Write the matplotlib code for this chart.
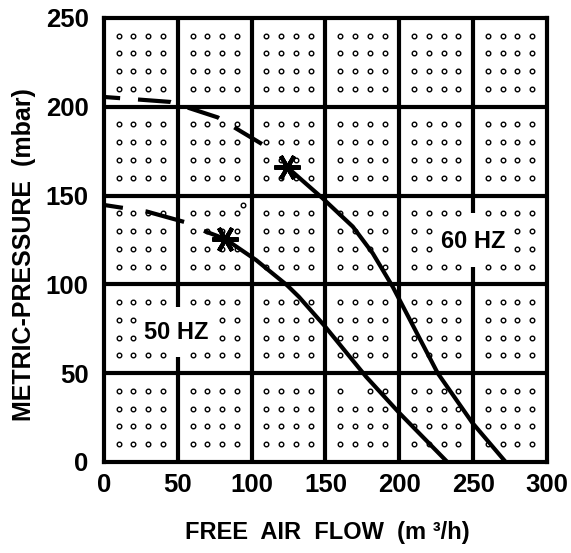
import matplotlib
matplotlib.use('Agg')
import matplotlib.pyplot as plt
import numpy as np

# ------------------------------------------------------------------
# curve data (free air flow m3/h, pressure mbar)
hz60_dash_x = [0, 45, 77, 107]
hz60_dash_y = [205.5, 202.7, 194, 179]
hz60_x = [124, 148, 168.5, 182, 195.5, 226, 249.5, 272]
hz60_y = [166, 148.5, 132.5, 117.5, 98.7, 50, 22, 0]

hz50_dash_x = [0, 29, 55]
hz50_dash_y = [144.7, 141, 135]
hz50_x = [69, 82, 103, 124, 132, 149, 177.5, 200, 232.5]
hz50_y = [129.7, 125.6, 113.7, 99.5, 93, 77, 48, 27.6, 0]

star_x = [124, 82]
star_y = [166, 125.6]

x_ticks = [0, 50, 100, 150, 200, 250, 300]
y_ticks = [0, 50, 100, 150, 200, 250]

labels = ["60 HZ", "50 HZ"]
label_x = [250, 49]
label_y = [124, 73]

# dots hidden behind labels / curves, and one stray dot
hidden_dots = [(230, 120), (240, 120), (260, 120), (270, 120),
               (230, 130), (240, 130), (260, 130), (270, 130),
               (30, 70), (40, 70), (60, 70), (70, 70),
               (30, 80), (40, 80), (60, 80), (70, 80),
               (170, 40)]
extra_dots = [(94, 144.5)]

# ------------------------------------------------------------------
plt.rcParams['font.family'] = ['Liberation Sans', 'DejaVu Sans']
plt.rcParams['font.weight'] = 'bold'

fig = plt.figure(figsize=(5.71, 5.53), dpi=100)
ax = fig.add_axes([0.182, 0.1646, 0.776, 0.803])
ax.set_xlim(0, 300)
ax.set_ylim(0, 250)

lw = 3.0
# grid lines (broken where the labels sit)
for xv in x_ticks[1:-1]:
    if xv == 250:
        ax.plot([xv, xv], [0, 110], color='black', lw=lw, solid_capstyle='butt')
        ax.plot([xv, xv], [140, 250], color='black', lw=lw, solid_capstyle='butt')
    elif xv == 50:
        ax.plot([xv, xv], [0, 59], color='black', lw=lw, solid_capstyle='butt')
        ax.plot([xv, xv], [87, 250], color='black', lw=lw, solid_capstyle='butt')
    else:
        ax.axvline(xv, color='black', lw=lw)
for yv in y_ticks[1:-1]:
    ax.axhline(yv, color='black', lw=lw)

# dot pattern, 4x4 per cell
dx = []
dy = []
for cx in range(0, 300, 50):
    for cy in range(0, 250, 50):
        for ox in (10, 20, 30, 40):
            for oy in (10, 20, 30, 40):
                if (cx + ox, cy + oy) in hidden_dots:
                    continue
                dx.append(cx + ox)
                dy.append(cy + oy)
for p in extra_dots:
    dx.append(p[0])
    dy.append(p[1])
ax.plot(dx, dy, 'o', ms=3.3, mfc='white', mec='black', mew=1.0, ls='none')

# curves
ax.plot(hz60_dash_x, hz60_dash_y, color='black', lw=lw,
        ls=(4.0, (7.9, 4.3)), dash_capstyle='butt')
ax.plot(hz60_x, hz60_y, color='black', lw=lw)
ax.plot(hz50_dash_x, hz50_dash_y, color='black', lw=lw,
        ls=(5.0, (9.6, 5.5)), dash_capstyle='butt')
ax.plot(hz50_x, hz50_y, color='black', lw=lw)
ax.plot(star_x, star_y, ls='none', marker=(6, 2, 30), ms=19, mew=3, color='black')

for t, xx, yy in zip(labels, label_x, label_y):
    ax.text(xx, yy, t, ha='center', va='center', fontsize=17, fontweight='bold')

for s in ax.spines.values():
    s.set_linewidth(lw)
ax.set_xticks(x_ticks)
ax.set_yticks(y_ticks)
ax.tick_params(length=0, labelsize=18.5)
ax.tick_params(axis='y', pad=11)
ax.tick_params(axis='x', pad=8)
for lab in ax.get_xticklabels() + ax.get_yticklabels():
    lab.set_fontweight('bold')

ax.set_xlabel("FREE  AIR  FLOW  (m ³/h)", fontsize=17, fontweight='bold')
ax.xaxis.set_label_coords(0.5045, -0.158)
ax.xaxis.label.set_va('center')
ax.set_ylabel("METRIC-PRESSURE  (mbar)", fontsize=18, fontweight='bold')
ax.yaxis.set_label_coords(-0.18, 0.468)
ax.yaxis.label.set_va('center')

plt.savefig('out.png', dpi=100)
